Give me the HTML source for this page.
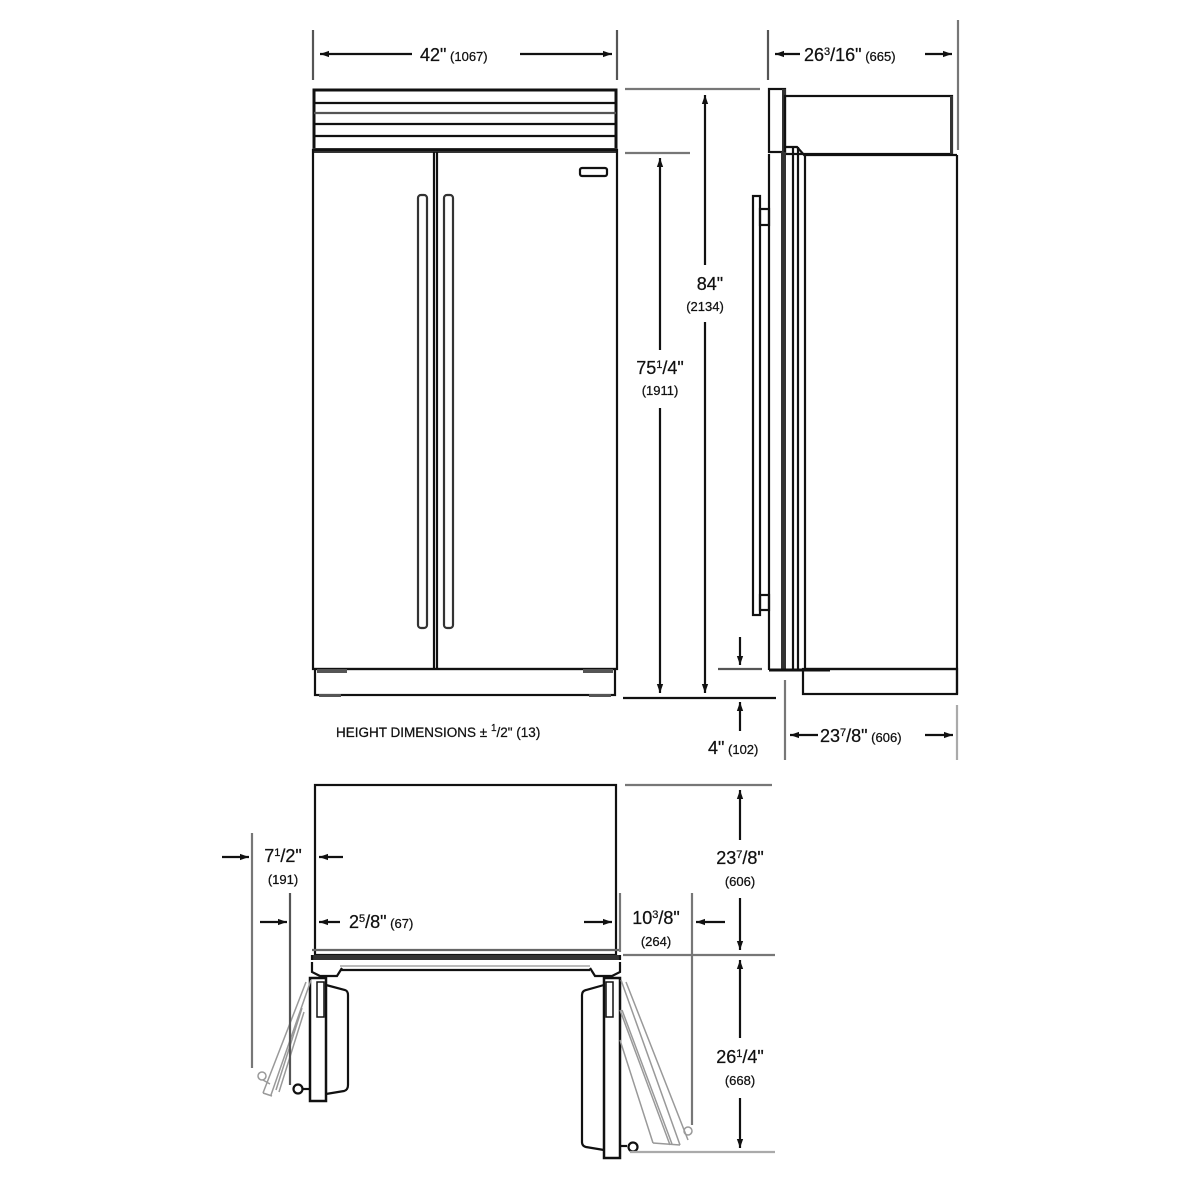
<!DOCTYPE html>
<html><head><meta charset="utf-8"><style>
html,body{margin:0;padding:0;background:#fff;width:1200px;height:1200px;overflow:hidden}
svg{display:block}
text{font-family:"Liberation Sans",Arial,sans-serif;fill:#111;stroke:#111;stroke-width:0.25}
.b{font-size:18px}.s{font-size:13px}
</style></head><body>
<svg width="1200" height="1200" viewBox="0 0 1200 1200" xmlns="http://www.w3.org/2000/svg">
<defs>
<marker id="a" viewBox="0 0 10 10" refX="10" refY="5" markerWidth="9" markerHeight="9" orient="auto-start-reverse" markerUnits="userSpaceOnUse"><path d="M0,1.5 L10,5 L0,8.5 Z" fill="#111"/></marker>
</defs>
<g fill="none" stroke="#111" stroke-width="2.2">
<!-- FRONT VIEW -->
<rect x="314" y="90" width="302" height="60" stroke-width="3"/>
<line x1="314" y1="103" x2="616" y2="103"/>
<line x1="314" y1="113" x2="616" y2="113" stroke="#555"/>
<line x1="314" y1="124" x2="616" y2="124"/>
<line x1="314" y1="136" x2="616" y2="136"/>
<rect x="313" y="148" width="304" height="5" fill="#333" stroke="none"/>
<line x1="349" y1="150" x2="583" y2="150" stroke="#888" stroke-width="2"/>
<rect x="313" y="150" width="304" height="519"/>
<line x1="434" y1="152" x2="434" y2="669"/>
<line x1="437" y1="152" x2="437" y2="669"/>
<rect x="580" y="168" width="27" height="8" rx="2"/>
<rect x="418" y="195" width="9" height="433" rx="3" stroke="#333"/>
<rect x="444" y="195" width="9" height="433" rx="3" stroke="#333"/>
<rect x="315" y="669" width="300" height="26"/>
<rect x="317" y="669" width="30" height="4" fill="#555" stroke="none"/>
<rect x="583" y="669" width="30" height="4" fill="#555" stroke="none"/>
<rect x="319" y="694" width="22" height="3" fill="#555" stroke="none"/>
<rect x="589" y="694" width="22" height="3" fill="#555" stroke="none"/>

<!-- dims top front -->
<line x1="313" y1="30" x2="313" y2="80" stroke="#555"/>
<line x1="617" y1="30" x2="617" y2="80" stroke="#555"/>
<line x1="320" y1="54" x2="412" y2="54" marker-start="url(#a)"/>
<line x1="520" y1="54" x2="612" y2="54" marker-end="url(#a)"/>
<!-- height dims -->
<line x1="625" y1="89" x2="760" y2="89" stroke="#777"/>
<line x1="625" y1="153" x2="690" y2="153" stroke="#777"/>
<line x1="705" y1="95" x2="705" y2="265" marker-start="url(#a)"/>
<line x1="705" y1="322" x2="705" y2="693" marker-end="url(#a)"/>
<line x1="660" y1="158" x2="660" y2="350" marker-start="url(#a)"/>
<line x1="660" y1="408" x2="660" y2="693" marker-end="url(#a)"/>
<line x1="623" y1="698" x2="776" y2="698"/>
<line x1="718" y1="669" x2="762" y2="669" stroke="#555"/>
<line x1="740" y1="637" x2="740" y2="665" marker-end="url(#a)"/>
<line x1="740" y1="731" x2="740" y2="702" marker-end="url(#a)"/>

<!-- SIDE VIEW -->
<line x1="768" y1="30" x2="768" y2="80" stroke="#555"/>
<line x1="958" y1="20" x2="958" y2="150" stroke="#777"/>
<line x1="775" y1="54" x2="800" y2="54" marker-start="url(#a)"/>
<line x1="925" y1="54" x2="952" y2="54" marker-end="url(#a)"/>
<rect x="769" y="89" width="16" height="63"/>
<rect x="782" y="89" width="4" height="63" fill="#333" stroke="none"/>
<rect x="785" y="96" width="167" height="58"/>
<rect x="950" y="96" width="3" height="58" fill="#333" stroke="none"/>
<line x1="769" y1="154" x2="769" y2="670"/>
<rect x="781" y="152" width="5" height="518" fill="#333" stroke="none"/>
<line x1="793" y1="147" x2="793" y2="670"/>
<line x1="798" y1="147" x2="798" y2="670"/>
<path d="M786,147 L797,147 L805,156 L805,670"/>
<line x1="805" y1="155" x2="957" y2="155"/>
<line x1="957" y1="155" x2="957" y2="694"/>
<line x1="769" y1="670" x2="830" y2="670" stroke-width="3"/>
<line x1="805" y1="669" x2="957" y2="669"/>
<rect x="803" y="669" width="154" height="25"/>
<rect x="753" y="196" width="7" height="419"/>
<rect x="760" y="209" width="9" height="16"/>
<rect x="760" y="595" width="9" height="15"/>
<line x1="785" y1="680" x2="785" y2="760" stroke="#777"/>
<line x1="957" y1="705" x2="957" y2="760" stroke="#aaa"/>
<line x1="790" y1="735" x2="818" y2="735" marker-start="url(#a)"/>
<line x1="925" y1="735" x2="953" y2="735" marker-end="url(#a)"/>

<!-- PLAN VIEW -->
<rect x="315" y="785" width="301" height="170"/>
<line x1="312" y1="950" x2="620" y2="950" stroke="#666"/>
<rect x="312" y="955" width="308" height="5" fill="#333" stroke="none"/>
<line x1="312" y1="955" x2="312" y2="960"/>
<line x1="620" y1="955" x2="620" y2="960"/>
<line x1="340" y1="970" x2="590" y2="970"/>
<line x1="340" y1="966" x2="590" y2="966" stroke="#777" stroke-width="1"/>
<path d="M312,962 L312,972 L320,976 L337,976 L342,968"/>
<path d="M620,962 L620,972 L612,976 L595,976 L590,968"/>
<!-- left door -->
<rect x="310" y="978" width="16" height="123" stroke-width="2.5"/>
<path d="M326,985 L345,990 Q348,991 348,995 L348,1085 Q348,1090 344,1091 L326,1094"/>
<rect x="317" y="982" width="7" height="35" stroke-width="1.5"/>
<line x1="303" y1="1089" x2="310" y2="1089"/>
<circle cx="298" cy="1089" r="4.5"/>
<g stroke="#999" stroke-width="1.5">
<line x1="311" y1="980" x2="271" y2="1095"/>
<line x1="306" y1="982" x2="263" y2="1093"/>
<line x1="302" y1="1008" x2="276" y2="1090"/>
<line x1="304" y1="1012" x2="279" y2="1092"/>
<line x1="263" y1="1093" x2="272" y2="1096"/>
<line x1="263" y1="1080" x2="270" y2="1084"/>
<circle cx="262" cy="1076" r="4"/>
</g>
<!-- right door -->
<rect x="604" y="978" width="16" height="180" stroke-width="2.5"/>
<path d="M604,985 L586,990 Q582,991 582,995 L582,1142 Q582,1146 586,1147 L604,1150"/>
<rect x="606" y="982" width="7" height="35" stroke-width="1.5"/>
<line x1="620" y1="1146" x2="627" y2="1146"/>
<circle cx="633" cy="1147" r="4.5"/>
<g stroke="#999" stroke-width="1.5">
<line x1="621" y1="980" x2="680" y2="1145"/>
<line x1="626" y1="982" x2="688" y2="1140"/>
<line x1="620" y1="1010" x2="670" y2="1145"/>
<line x1="622" y1="1010" x2="672" y2="1144"/>
<line x1="620" y1="1040" x2="653" y2="1143"/>
<line x1="653" y1="1143" x2="680" y2="1145"/>
<circle cx="688" cy="1131" r="4"/>
</g>
<!-- plan dims -->
<line x1="252" y1="833" x2="252" y2="1068" stroke="#777"/>
<line x1="290" y1="893" x2="290" y2="1085" stroke="#555"/>
<line x1="222" y1="857" x2="249" y2="857" marker-end="url(#a)"/>
<line x1="343" y1="857" x2="319" y2="857" marker-end="url(#a)"/>
<line x1="260" y1="922" x2="287" y2="922" marker-end="url(#a)"/>
<line x1="340" y1="922" x2="319" y2="922" marker-end="url(#a)"/>
<line x1="584" y1="922" x2="612" y2="922" marker-end="url(#a)"/>
<line x1="620" y1="893" x2="620" y2="952" stroke="#777"/>
<line x1="692" y1="893" x2="692" y2="1125" stroke="#777"/>
<line x1="725" y1="922" x2="696" y2="922" marker-end="url(#a)"/>
<line x1="625" y1="785" x2="772" y2="785" stroke="#777"/>
<line x1="623" y1="955" x2="775" y2="955" stroke="#777"/>
<line x1="630" y1="1152" x2="775" y2="1152" stroke="#aaa"/>
<line x1="740" y1="790" x2="740" y2="840" marker-start="url(#a)"/>
<line x1="740" y1="898" x2="740" y2="950" marker-end="url(#a)"/>
<line x1="740" y1="960" x2="740" y2="1038" marker-start="url(#a)"/>
<line x1="740" y1="1098" x2="740" y2="1148" marker-end="url(#a)"/>
</g>

<!-- TEXT -->
<text x="420" y="61" class="b">42"<tspan class="s"> (1067)</tspan></text>
<text x="804" y="61" class="b">26<tspan font-size="11" dy="-6">3</tspan><tspan dy="6">/16"</tspan><tspan class="s"> (665)</tspan></text>
<text x="710" y="290" class="b" text-anchor="middle">84"</text>
<text x="705" y="311" class="s" text-anchor="middle">(2134)</text>
<text x="660" y="374" class="b" text-anchor="middle">75<tspan font-size="11" dy="-6">1</tspan><tspan dy="6">/4"</tspan></text>
<text x="660" y="395" class="s" text-anchor="middle">(1911)</text>
<text x="336" y="737" font-size="13.5">HEIGHT DIMENSIONS ± <tspan font-size="10" dy="-6">1</tspan><tspan dy="6">/2" (13)</tspan></text>
<text x="708" y="754" class="b">4"<tspan class="s"> (102)</tspan></text>
<text x="820" y="742" class="b">23<tspan font-size="11" dy="-6">7</tspan><tspan dy="6">/8"</tspan><tspan class="s"> (606)</tspan></text>
<text x="283" y="862" class="b" text-anchor="middle">7<tspan font-size="11" dy="-6">1</tspan><tspan dy="6">/2"</tspan></text>
<text x="283" y="884" class="s" text-anchor="middle">(191)</text>
<text x="349" y="928" class="b">2<tspan font-size="11" dy="-6">5</tspan><tspan dy="6">/8"</tspan><tspan class="s"> (67)</tspan></text>
<text x="656" y="924" class="b" text-anchor="middle">10<tspan font-size="11" dy="-6">3</tspan><tspan dy="6">/8"</tspan></text>
<text x="656" y="946" class="s" text-anchor="middle">(264)</text>
<text x="740" y="864" class="b" text-anchor="middle">23<tspan font-size="11" dy="-6">7</tspan><tspan dy="6">/8"</tspan></text>
<text x="740" y="886" class="s" text-anchor="middle">(606)</text>
<text x="740" y="1063" class="b" text-anchor="middle">26<tspan font-size="11" dy="-6">1</tspan><tspan dy="6">/4"</tspan></text>
<text x="740" y="1085" class="s" text-anchor="middle">(668)</text>
</svg>
</body></html>
